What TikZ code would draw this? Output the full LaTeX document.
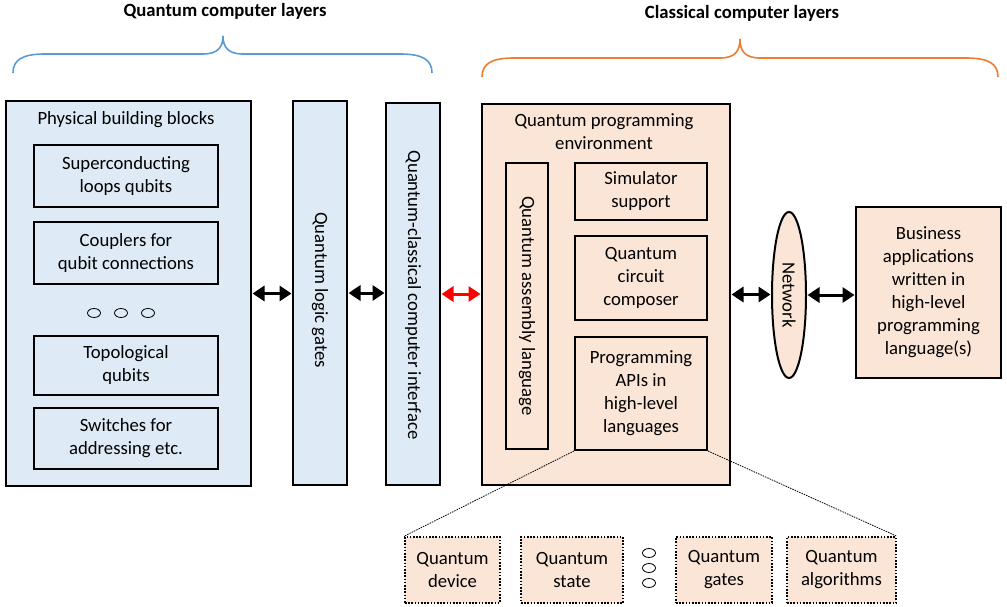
\documentclass[tikz,border=0pt]{standalone}
\usepackage{fontspec}
\setmainfont{Carlito}
\usetikzlibrary{arrows.meta,shapes.geometric}
\definecolor{qblue}{RGB}{222,235,247}
\definecolor{corange}{RGB}{251,229,214}
\definecolor{braceblue}{RGB}{91,155,213}
\definecolor{braceorange}{RGB}{237,125,49}
\tikzset{
  box/.style={draw=black, line width=2pt, rectangle, inner sep=0pt, align=center,
    font=\fontsize{18.7}{23}\selectfont},
  qbox/.style={box, fill=qblue},
  cbox/.style={box, fill=corange},
  dbox/.style={box, fill=corange, line width=1.6pt, dash pattern=on 1.6pt off 1.6pt},
  lbl/.style={inner sep=0pt, align=center, font=\fontsize{18.7}{23}\selectfont},
  ttl/.style={inner sep=0pt, font=\bfseries\fontsize{18.7}{22}\selectfont},
  darr/.style={line width=3pt, {Triangle[length=12pt,width=15pt]}-{Triangle[length=12pt,width=15pt]}, shorten <=0.5pt, shorten >=0.5pt},
  dots/.style={draw=black, line width=0.8pt, ellipse, minimum width=13pt, minimum height=9pt, inner sep=0pt},
  brace/.style={line width=1.6pt},
  zoomline/.style={line width=0.8pt, dash pattern=on 1.5pt off 1pt}
}
\begin{document}
\begin{tikzpicture}[x=1pt,y=-1pt]
\useasboundingbox (0,0) rectangle (1007,607);

% titles and braces
\node[ttl] (tq) at (225,11) {Quantum computer layers};
\node[ttl] (tc) at (742,13) {Classical computer layers};
\draw[brace, braceblue] (13,73) .. controls (13,60) and (22,54) .. (45,54) -- (203,54)
  .. controls (218,54) and (223,47) .. (223,36) .. controls (223,47) and (228,54) .. (243,54)
  -- (400,54) .. controls (423,54) and (432,60) .. (432,73);
\draw[brace, braceorange] (482,77) .. controls (482,64) and (491,58) .. (514,58) -- (720,58)
  .. controls (735,58) and (740,51) .. (740,39) .. controls (740,51) and (745,58) .. (760,58)
  -- (966,58) .. controls (989,58) and (998,64) .. (998,77);

% left panel
\node[qbox, minimum width=245pt, minimum height=385pt] (phys) at (128.5,293.5) {};
\node[lbl] (physt) at (126,120) {Physical building blocks};
\node[qbox, minimum width=184pt, minimum height=62pt] (sc) at (126,176) {Superconducting\\loops qubits};
\node[qbox, minimum width=184pt, minimum height=62pt] (cp) at (126,253) {Couplers for\\qubit connections};
\node[dots] (e1) at (94,313) {};
\node[dots] (e2) at (121,313) {};
\node[dots] (e3) at (148,313) {};
\node[qbox, minimum width=184pt, minimum height=59pt] (tp) at (126,365.5) {Topological\\qubits};
\node[qbox, minimum width=184pt, minimum height=61pt] (sw) at (126,438.5) {Switches for\\addressing etc.};

\node[qbox, minimum width=54pt, minimum height=384pt] (lg) at (320,293) {};
\node[lbl, rotate=-90] (lgt) at (320,290) {Quantum logic gates};
\node[qbox, minimum width=54pt, minimum height=382pt] (qi) at (413,294) {};
\node[lbl, rotate=-90] (qit) at (413,295) {Quantum-classical computer interface};

% right panel
\node[cbox, minimum width=248pt, minimum height=381pt] (env) at (606,294.5) {};
\node[lbl] (envt) at (604,132) {Quantum programming\\environment};
\node[cbox, minimum width=42pt, minimum height=286pt] (qal) at (527,306) {};
\node[lbl, rotate=-90] (qalt) at (527,306) {Quantum assembly language};
\node[cbox, minimum width=132pt, minimum height=57pt] (sim) at (641,191.5) {Simulator\\support};
\node[cbox, minimum width=132pt, minimum height=84pt] (qcc) at (641,278) {Quantum\\circuit\\composer};
\node[cbox, minimum width=132pt, minimum height=113pt] (api) at (641,393.5) {Programming\\APIs in\\high-level\\languages};

\node[draw=black, line width=2pt, fill=corange, ellipse, minimum width=34pt, minimum height=166pt, inner sep=0pt] (net) at (789,295) {};
\node[lbl, rotate=-90] (nett) at (789,295) {Network};
\node[cbox, minimum width=145pt, minimum height=171pt] (biz) at (928.5,292.5) {Business\\applications\\written in\\high-level\\programming\\language(s)};

% bottom boxes
\node[dbox, minimum width=95pt, minimum height=66pt] (dev) at (452.5,570) {Quantum\\device};
\node[dbox, minimum width=102pt, minimum height=66pt] (st) at (572,570) {Quantum\\state};
\node[dots] (v1) at (649,553) {};
\node[dots] (v2) at (649,568) {};
\node[dots] (v3) at (649,583) {};
\node[dbox, minimum width=96pt, minimum height=66pt] (gt) at (724,570) {Quantum\\gates};
\node[dbox, minimum width=109pt, minimum height=66pt] (alg) at (841.5,570) {Quantum\\algorithms};

\draw[zoomline] (api.south west) -- (dev.north west);
\draw[zoomline] (api.south east) -- (alg.north east);

% arrows
\draw[darr] (phys.east) -- (phys.east -| lg.west);
\draw[darr] (lg.east) -- (lg.east -| qi.west);
\draw[darr, red] (qi.east) -- (qi.east -| env.west);
\draw[darr] (env.east) -- (env.east -| net.west);
\draw[darr] (net.east) -- (net.east -| biz.west);
\end{tikzpicture}
\end{document}
